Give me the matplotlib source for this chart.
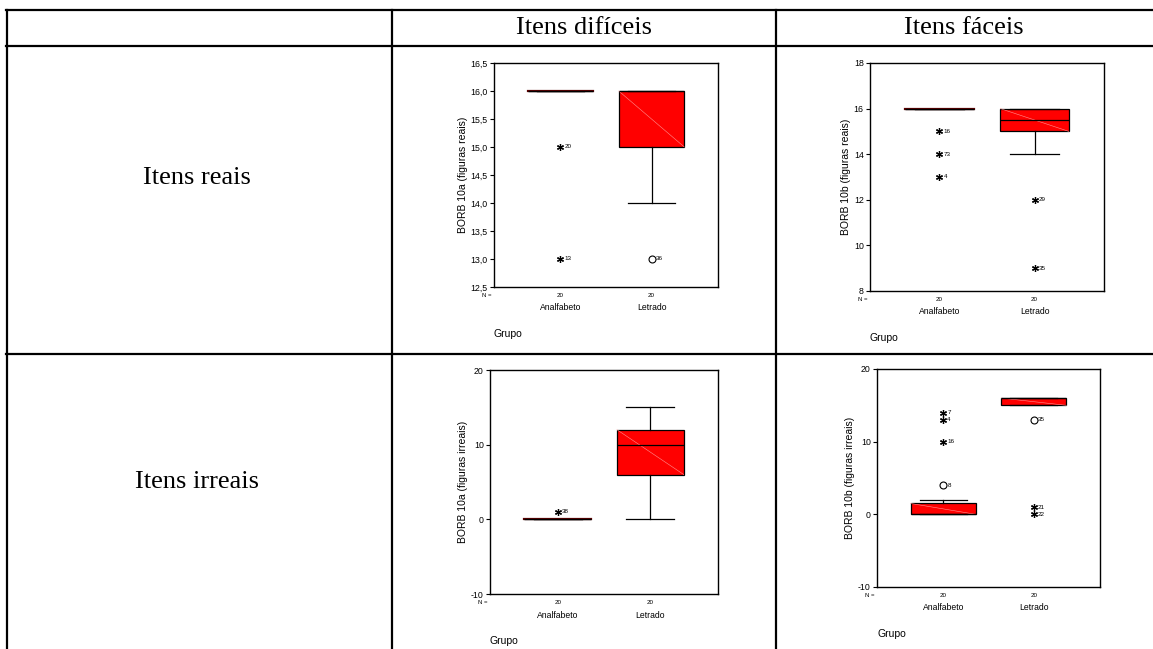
import matplotlib
matplotlib.use('Agg')
import matplotlib.pyplot as plt
from matplotlib.lines import Line2D

W, H = 1153, 649

col_titles = ['Itens difíceis', 'Itens fáceis']
row_titles = ['Itens reais', 'Itens irreais']
grupos = ['Analfabeto', 'Letrado']
n_grupo = ['20', '20']

# painel 1: BORB 10a reais
p1_ylabel = 'BORB 10a (figuras reais)'
p1_q1 = [16, 15]
p1_med = [16, 16]
p1_q3 = [16, 16]
p1_lo = [16, 14]
p1_hi = [16, 16]
p1_circ = [[], [13]]
p1_circ_lab = [[], ['36']]
p1_star = [[15, 13], []]
p1_star_lab = [['20', '13'], []]
p1_ylim = (12.5, 16.5)
p1_ticks = [12.5, 13.0, 13.5, 14.0, 14.5, 15.0, 15.5, 16.0, 16.5]
p1_ticklab = ['12,5', '13,0', '13,5', '14,0', '14,5', '15,0', '15,5', '16,0', '16,5']

# painel 2: BORB 10b reais
p2_ylabel = 'BORB 10b (figuras reais)'
p2_q1 = [16, 15]
p2_med = [16, 15.5]
p2_q3 = [16, 16]
p2_lo = [16, 14]
p2_hi = [16, 16]
p2_circ = [[], []]
p2_circ_lab = [[], []]
p2_star = [[15, 14, 13], [12, 9]]
p2_star_lab = [['16', '73', '4'], ['29', '35']]
p2_ylim = (8, 18)
p2_ticks = [8, 10, 12, 14, 16, 18]
p2_ticklab = ['8', '10', '12', '14', '16', '18']

# painel 3: BORB 10a irreais
p3_ylabel = 'BORB 10a (figuras irreais)'
p3_q1 = [0, 6]
p3_med = [0, 10]
p3_q3 = [0, 12]
p3_lo = [0, 0]
p3_hi = [0, 15]
p3_circ = [[], []]
p3_circ_lab = [[], []]
p3_star = [[1], []]
p3_star_lab = [['38'], []]
p3_ylim = (-10, 20)
p3_ticks = [-10, 0, 10, 20]
p3_ticklab = ['-10', '0', '10', '20']

# painel 4: BORB 10b irreais
p4_ylabel = 'BORB 10b (figuras irreais)'
p4_q1 = [0, 15]
p4_med = [0, 16]
p4_q3 = [1.5, 16]
p4_lo = [0, 15]
p4_hi = [2, 16]
p4_circ = [[4], [13]]
p4_circ_lab = [['8'], ['35']]
p4_star = [[10, 13, 14], [1, 0]]
p4_star_lab = [['16', '4', '7'], ['21', '22']]
p4_ylim = (-10, 20)
p4_ticks = [-10, 0, 10, 20]
p4_ticklab = ['-10', '0', '10', '20']

SANS = 'Liberation Sans'
SERIF = 'Liberation Serif'

fig = plt.figure(figsize=(W / 100, H / 100), dpi=100)


def fx(x):
    return x / W


def fy(y):
    return 1 - y / H


def hline(y, x0, x1):
    fig.add_artist(Line2D([fx(x0), fx(x1)], [fy(y), fy(y)], color='black', lw=1.6))


def vline(x, y0, y1):
    fig.add_artist(Line2D([fx(x), fx(x)], [fy(y0), fy(y1)], color='black', lw=1.6))


# grade da tabela
hline(10, 6, W + 5)
hline(46, 6, W + 5)
hline(354, 6, W + 5)
vline(7, 10, H + 5)
vline(392, 10, H + 5)
vline(776, 10, H + 5)

fig.text(fx(584), fy(28), col_titles[0], family=SERIF, fontsize=19, ha='center', va='center')
fig.text(fx(964), fy(28), col_titles[1], family=SERIF, fontsize=19, ha='center', va='center')
fig.text(fx(197), fy(178), row_titles[0], family=SERIF, fontsize=19, ha='center', va='center')
fig.text(fx(197), fy(482), row_titles[1], family=SERIF, fontsize=19, ha='center', va='center')


def painel(box, ylabel, q1, med, q3, lo, hi, circ, circ_lab, star, star_lab,
           ylim, ticks, ticklab):
    left, right, top, bottom = box
    ax = fig.add_axes([fx(left), fy(bottom), (right - left) / W, (bottom - top) / H])
    pos = [1, 2]
    stats = []
    for i in range(2):
        stats.append(dict(q1=q1[i], med=med[i], q3=q3[i], whislo=lo[i], whishi=hi[i], fliers=[]))
    ax.bxp(stats, positions=pos, widths=0.72, capwidths=0.52, patch_artist=True,
           showfliers=False,
           boxprops=dict(facecolor='#ff0000', edgecolor='black', linewidth=0.9),
           medianprops=dict(color='black', linewidth=0.9),
           whiskerprops=dict(color='black', linewidth=0.9),
           capprops=dict(color='black', linewidth=0.9))
    for i in range(2):
        if q3[i] > q1[i]:
            ax.plot([pos[i] - 0.36, pos[i] + 0.36], [q3[i], q1[i]], color='#ff9090', lw=0.4)
        else:
            ax.plot([pos[i] - 0.36, pos[i] + 0.36], [q1[i], q1[i]], color='#5a0000', lw=1.6)
        for v, lab in zip(circ[i], circ_lab[i]):
            ax.plot(pos[i], v, 'o', ms=5, mfc='white', mec='black', mew=0.8)
            ax.annotate(lab, (pos[i], v), xytext=(3, 0), textcoords='offset points',
                        fontsize=4.5, family=SANS, va='center')
        for v, lab in zip(star[i], star_lab[i]):
            ax.plot(pos[i], v, marker=(6, 2, 0), ms=5, color='black', mew=0.9)
            ax.annotate(lab, (pos[i], v), xytext=(3, 0), textcoords='offset points',
                        fontsize=4.5, family=SANS, va='center')
    ax.set_xlim(0.27, 2.73)
    ax.set_ylim(*ylim)
    ax.set_yticks(ticks)
    ax.set_yticklabels(ticklab, family=SANS, fontsize=6.3)
    ax.tick_params(axis='y', length=3, width=0.8, pad=1.5)
    ax.set_xticks([])
    for s in ax.spines.values():
        s.set_linewidth(1.0)
    ax.set_ylabel(ylabel, family=SANS, fontsize=7.5, labelpad=2)
    xt = ax.get_xaxis_transform()
    ax.annotate('N =', (0, 0), xycoords='axes fraction', xytext=(-7, -8.5),
                textcoords='offset pixels', fontsize=4.3, family=SANS, ha='center', va='center')
    for i in range(2):
        ax.annotate(n_grupo[i], (pos[i], 0), xycoords=xt, xytext=(0, -8.5),
                    textcoords='offset pixels', fontsize=4.5, family=SANS, ha='center', va='center')
        ax.annotate(grupos[i], (pos[i], 0), xycoords=xt, xytext=(0, -21),
                    textcoords='offset pixels', fontsize=6.2, family=SANS, ha='center', va='center')
    ax.annotate('Grupo', (0, 0), xycoords='axes fraction', xytext=(0, -47),
                textcoords='offset pixels', fontsize=7.5, family=SANS, ha='left', va='center')
    return ax


painel((494, 718, 63, 287), p1_ylabel, p1_q1, p1_med, p1_q3, p1_lo, p1_hi,
       p1_circ, p1_circ_lab, p1_star, p1_star_lab, p1_ylim, p1_ticks, p1_ticklab)
painel((870, 1104, 63, 291), p2_ylabel, p2_q1, p2_med, p2_q3, p2_lo, p2_hi,
       p2_circ, p2_circ_lab, p2_star, p2_star_lab, p2_ylim, p2_ticks, p2_ticklab)
painel((490, 718, 370, 594), p3_ylabel, p3_q1, p3_med, p3_q3, p3_lo, p3_hi,
       p3_circ, p3_circ_lab, p3_star, p3_star_lab, p3_ylim, p3_ticks, p3_ticklab)
painel((877, 1100, 369, 587), p4_ylabel, p4_q1, p4_med, p4_q3, p4_lo, p4_hi,
       p4_circ, p4_circ_lab, p4_star, p4_star_lab, p4_ylim, p4_ticks, p4_ticklab)

fig.savefig('out.png', dpi=100)
